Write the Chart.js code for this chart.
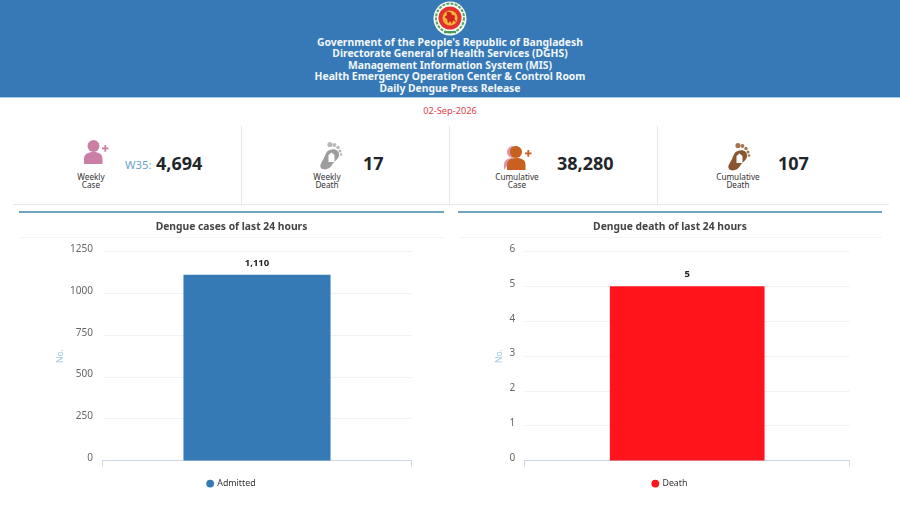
<!DOCTYPE html>
<html><head><meta charset="utf-8">
<script src="https://cdn.jsdelivr.net/npm/chart.js@4"></script>
<style>
html,body{margin:0;padding:0;background:#fff;width:900px;height:506px;overflow:hidden;font-family:"Noto Sans",sans-serif}
.abs{position:absolute}
#hdr{left:0;top:0;width:900px;height:97px;background:#3679b6;border-bottom:1px solid #a9cbe4}
#hl{left:0;top:35.500px;width:900px;text-align:center;color:#f2f7fb;font-weight:700;font-size:11px;line-height:11.500px;transform:scaleX(.94)}
#date{left:0;top:104px;width:900px;text-align:center;color:#e0404c;font-size:9.2px;line-height:14px}
.v{background:#e6e9ec;width:1px;top:126px;height:79px}
.num{font-weight:700;font-size:18px;color:#22262b;line-height:22px;top:151.500px}
.lab{font-size:8.2px;line-height:8.4px;color:#333;text-align:center;width:70px;top:173px}
.card{height:2px;background:#6fa3bf;top:211px}
.sep{height:1px;background:#f3f4f5;top:237px}
canvas{display:block}
</style></head><body>
<div id="hdr" class="abs"></div>
<svg class="abs" style="left:433px;top:1px" width="34" height="35" viewBox="0 0 34 35">
<ellipse cx="17" cy="17.500" rx="16.500" ry="17" fill="#fbfdf8"/>
<ellipse cx="17" cy="17" rx="14" ry="14.500" fill="none" stroke="#5aa468" stroke-width="2" stroke-dasharray="3 1.200"/>
<circle cx="17" cy="17" r="11.500" fill="#e2332d"/>
<circle cx="17" cy="17" r="7.500" fill="#f5b43a"/>
<path d="M13.500 10.500l4.500 1 1 2.500 3 .5-.5 3 1.500 3.500-3-1.500-1 3.500-2-3-2 2.500-1-4.500-2.500-2 2.500-2z" fill="#d2231f"/>
<rect x="11" y="30" width="12" height="2.200" fill="#4c9a58"/>
</svg>
<div id="hl" class="abs"></div>
<div id="date" class="abs"></div>
<div class="v abs" style="left:241px"></div><div class="v abs" style="left:449px"></div><div class="v abs" style="left:657px"></div>
<div class="abs" style="left:13px;top:204px;width:876px;height:1px;background:#e6e9ec"></div>

<svg class="abs" style="left:82px;top:139px" width="27" height="27" viewBox="0 0 27 27"><g fill="#cc7fa5"><circle cx="11.500" cy="7" r="6"/><path d="M2 25v-5c0-5 4-7 9.500-7s9 2 9 7v5z"/><rect x="20" y="8.500" width="6.500" height="1.800"/><rect x="22.400" y="6" width="1.800" height="6.800"/></g></svg>
<svg class="abs" style="left:319px;top:141px" width="24" height="30" viewBox="0 0 24 30"><path d="M11 9C16 7 21 10 20 15C19 19 15 20 13 24C11 28 5 30 2 27C0 24 3 21 5 17C7 13 7 10 11 9z" fill="#9d9d9d"/><g fill="#b9b9b9"><circle cx="11" cy="3.500" r="2.600"/><circle cx="15.500" cy="4" r="1.900"/><circle cx="19" cy="6.500" r="1.700"/><circle cx="21" cy="10" r="1.500"/><circle cx="22" cy="13.500" r="1.300"/></g><path d="M9.500 14l3-2.500 3 2.500v7h-6z" fill="#fff"/></svg>
<svg class="abs" style="left:503px;top:145px" width="29" height="26" viewBox="0 0 29 26"><g fill="#dd93a6"><circle cx="10" cy="7" r="6"/><path d="M1 25v-5c0-5 4-7 9-7z"/></g><g fill="#c8601f"><circle cx="13" cy="7" r="6"/><path d="M4 25v-5c0-5 4-7 9.500-7s9 2 9 7v5z"/><rect x="22" y="7.500" width="6.500" height="1.800"/><rect x="24.400" y="5" width="1.800" height="6.800"/></g></svg>
<svg class="abs" style="left:726px;top:142px" width="25" height="30" viewBox="0 0 25 30"><path d="M12 9C17 7 22 10 21 15C20 19 16 20 14 24C12 28 6 30 3 27C1 24 4 21 6 17C8 13 8 10 12 9z" fill="#8a5630"/><g fill="#a67652"><circle cx="12" cy="3.500" r="2.600"/><circle cx="16.500" cy="4" r="1.900"/><circle cx="20" cy="6.500" r="1.700"/><circle cx="22" cy="10" r="1.500"/><circle cx="23" cy="13.500" r="1.300"/></g><path d="M10.500 14l3-2.500 3 2.500v7h-6z" fill="#fff"/></svg>

<div class="abs" id="wk" style="left:125px;top:157px;color:#6ba3cc;font-size:11.300px;line-height:16px"></div>
<div class="abs num" id="n0" style="left:156px"></div>
<div class="abs num" id="n1" style="left:363px"></div>
<div class="abs num" id="n2" style="left:557px"></div>
<div class="abs num" id="n3" style="left:778px"></div>
<div class="abs lab" id="l0" style="left:56px"></div>
<div class="abs lab" id="l1" style="left:292px"></div>
<div class="abs lab" id="l2" style="left:482px"></div>
<div class="abs lab" id="l3" style="left:703px"></div>

<div class="abs card" style="left:19px;width:425px"></div><div class="abs card" style="left:458px;width:424px"></div>
<div class="abs sep" style="left:19px;width:425px"></div><div class="abs sep" style="left:458px;width:424px"></div>
<div class="abs" style="left:19px;top:214px;width:425px;height:284px"><canvas id="c1"></canvas></div>
<div class="abs" style="left:458px;top:214px;width:424px;height:284px"><canvas id="c2"></canvas></div>

<script>
const headerLines = ["Government of the People's Republic of Bangladesh","Directorate General of Health Services (DGHS)","Management Information System (MIS)","Health Emergency Operation Center & Control Room","Daily Dengue Press Release"];
const reportDate = "02-Sep-2026";
const weekLabel = "W35:";
const kpiValues = ["4,694","17","38,280","107"];
const kpiLabels = [["Weekly","Case"],["Weekly","Death"],["Cumulative","Case"],["Cumulative","Death"]];
const casesTitle = "Dengue cases of last 24 hours";
const casesCategories = ["Admitted"];
const casesValues = [1110];
const casesTicks = [0,250,500,750,1000,1250];
const deathTitle = "Dengue death of last 24 hours";
const deathCategories = ["Death"];
const deathValues = [5];
const deathTicks = [0,1,2,3,4,5,6];

document.getElementById('hl').innerHTML = headerLines.map(s=>s.replace('&','&amp;')).join('<br>');
document.getElementById('date').textContent = reportDate;
document.getElementById('wk').textContent = weekLabel;
kpiValues.forEach((v,i)=>document.getElementById('n'+i).textContent=v);
kpiLabels.forEach((v,i)=>document.getElementById('l'+i).innerHTML=v.join('<br>'));

const font = '"Noto Sans", sans-serif';
const valueLabel = {
  id:'valueLabel',
  afterDatasetsDraw(chart){
    const {ctx} = chart; const el = chart.getDatasetMeta(0).data[0];
    const v = chart.data.datasets[0].data[0];
    ctx.save(); ctx.font = '700 9.5px '+font; ctx.fillStyle='#222'; ctx.textAlign='center'; ctx.textBaseline='alphabetic';
    ctx.fillText(v.toLocaleString('en-US'), el.x, el.y-9); ctx.restore();
  }
};
function make(id, title, cats, vals, ticks, color, yW, pad, titlePad){
  new Chart(document.getElementById(id),{
    type:'bar',
    data:{labels:cats,datasets:[{label:cats[0],data:vals,backgroundColor:color,borderWidth:0,barPercentage:.476,categoryPercentage:1}]},
    plugins:[valueLabel],
    options:{
      responsive:true,maintainAspectRatio:false,animation:false,
      layout:{padding:{left:pad,right:pad,top:0,bottom:0}},
      plugins:{
        tooltip:{enabled:false},
        title:{display:true,text:title,color:'#444',font:{family:font,size:10.3,weight:'700'},padding:{top:6.5,bottom:18.5}},
        legend:{position:'bottom',onClick:null,labels:{usePointStyle:true,pointStyle:'circle',boxWidth:5.5,boxHeight:5.5,padding:12.3,color:'#333',font:{family:font,size:8.8}}}
      },
      scales:{
        x:{border:{color:'#ccd6e6'},grid:{drawOnChartArea:false,drawTicks:true,tickLength:6,tickColor:'#ccd6e6',offset:true},ticks:{display:false}},
        y:{min:0,max:ticks[ticks.length-1],afterBuildTicks(s){s.ticks=ticks.map(v=>({value:v}));},
           afterFit(s){s.width=yW;},
           border:{display:false},grid:{color:'#eff2f4',drawTicks:false},
           ticks:{color:'#666',padding:9.5,labelOffset:-2.5,font:{family:font,size:10},callback:v=>String(v)},
           title:{display:true,text:'No.',color:'#a4cbe6',padding:{top:titlePad,bottom:0},font:{family:font,size:8.5}}}
      }
    }
  });
}
make('c1',casesTitle,casesCategories,casesValues,casesTicks,'#3579b5',51,32.5,3.5);
make('c2',deathTitle,deathCategories,deathValues,deathTicks,'#ff141c',34.4,32.3,3.7);
</script>
</body></html>
